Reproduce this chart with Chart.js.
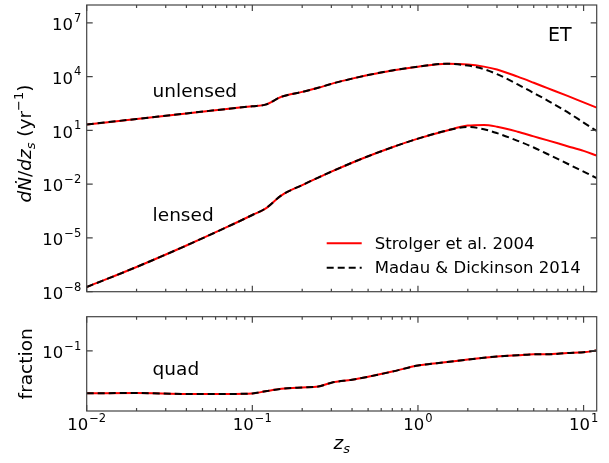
<!DOCTYPE html>
<html>
<head>
<meta charset="utf-8">
<script src="https://cdn.jsdelivr.net/npm/chart.js@4.4.1/dist/chart.umd.min.js"></script>
<style>
  html, body { margin: 0; padding: 0; background: #fff; }
  .panel { position: absolute; left: 0; width: 609px; }
</style>
</head>
<body>
<div class="panel" style="top:0;height:300px"><canvas id="rateChart"></canvas></div>
<div class="panel" style="top:300px;height:163px"><canvas id="fracChart"></canvas></div>
<script>
// source redshift grid
const zs = [0.01, 0.02, 0.04, 0.07, 0.1, 0.12, 0.15, 0.2, 0.25, 0.3, 0.4, 0.5, 0.7,
            1.0, 1.5, 2.0, 2.5, 3, 4, 5, 6, 8, 10, 12];

// dN/dz_s (yr^-1), unlensed
const unlensedStrolger = [21.4, 43.6, 89.1, 158, 224, 275, 759, 1413, 2399, 3981, 7762, 12300, 22390,
                          36310, 52480, 47860, 36310, 25120, 10000, 4571, 2371, 841, 368, 188];
const unlensedMadau    = [21.4, 43.6, 89.1, 158, 224, 275, 759, 1413, 2399, 3981, 7762, 12300, 22390,
                          36310, 52480, 41690, 26300, 13800, 3715, 1230, 490, 105, 27.5, 9.33];

// dN/dz_s (yr^-1), lensed
const lensedStrolger = [1.82e-8, 2.40e-7, 3.80e-6, 3.98e-5, 1.91e-4, 4.37e-4, 2.40e-3, 8.91e-3, 0.0234, 0.0501, 0.158, 0.363, 1.15,
                        3.47, 10.0, 18.6, 20.4, 16.2, 8.51, 4.68, 2.88, 1.32, 0.724, 0.398];
const lensedMadau    = [1.82e-8, 2.40e-7, 3.80e-6, 3.98e-5, 1.91e-4, 4.37e-4, 2.40e-3, 8.91e-3, 0.0234, 0.0501, 0.158, 0.363, 1.15,
                        3.47, 10.0, 15.8, 11.7, 7.08, 2.63, 1.12, 0.501, 0.138, 0.0501, 0.0219];

// quad fraction
const quadStrolger = [0.0321, 0.0324, 0.0316, 0.0316, 0.0320, 0.0339, 0.0363, 0.0376, 0.0385, 0.0427, 0.0462, 0.0501, 0.0575,
                      0.0676, 0.0741, 0.0794, 0.0832, 0.0861, 0.0891, 0.0912, 0.0912, 0.0944, 0.0966, 0.101];
const quadMadau    = [0.0321, 0.0324, 0.0316, 0.0316, 0.0320, 0.0339, 0.0363, 0.0376, 0.0385, 0.0427, 0.0462, 0.0501, 0.0575,
                      0.0676, 0.0741, 0.0794, 0.0832, 0.0861, 0.0891, 0.0912, 0.0912, 0.0944, 0.0966, 0.101];

const seriesNames = ['Strolger et al. 2004', 'Madau & Dickinson 2014'];
const xTicks = [1e-2, 1e-1, 1, 10];
const rateTicks = [1e-8, 1e-5, 1e-2, 1e1, 1e4, 1e7];
const fracTicks = [1e-1];

const FONT = '"DejaVu Sans", sans-serif';
const RED = '#ff0000';
const FRAME = '#444';

const xy = ys => zs.map((z, i) => ({ x: z, y: ys[i] }));

const redLine = (label, ys) => ({
    label, data: xy(ys), borderColor: RED, borderWidth: 2, pointRadius: 0,
    cubicInterpolationMode: 'monotone', order: 2
});
const blackLine = (label, ys) => ({
    label, data: xy(ys), borderColor: '#000', borderWidth: 2, borderDash: [7, 4], pointRadius: 0,
    cubicInterpolationMode: 'monotone', order: 1
});

// draw pieces of text in a row, centred on (cx, cy), optionally rotated
function drawRich(ctx, pieces, cx, cy, rot) {
    ctx.save();
    ctx.translate(cx, cy);
    if (rot) ctx.rotate(rot);
    ctx.textBaseline = 'alphabetic';
    ctx.textAlign = 'left';
    let w = 0;
    pieces.forEach(p => { ctx.font = p.f; p.w = ctx.measureText(p.t).width; w += p.w; });
    let x = -w / 2;
    pieces.forEach(p => { ctx.font = p.f; ctx.fillText(p.t, x, p.dy || 0); x += p.w; });
    ctx.restore();
}

// "10" with a raised exponent, like matplotlib's log tick labels
function drawPow(ctx, v, x, y, align) {
    const base = '10';
    const exp = String(Math.round(Math.log10(v))).replace('-', '\u2212');
    ctx.textAlign = 'left';
    ctx.textBaseline = 'alphabetic';
    ctx.font = '16.5px ' + FONT;
    const wb = ctx.measureText(base).width;
    ctx.font = '11.5px ' + FONT;
    const we = ctx.measureText(exp).width;
    const w = wb + we + 1;
    let x0 = align === 'right' ? x - w : x - w / 2;
    ctx.font = '16.5px ' + FONT;
    ctx.fillText(base, x0, y);
    ctx.font = '11.5px ' + FONT;
    ctx.fillText(exp, x0 + wb + 1, y - 8.5);
}

const axesDeco = {
    id: 'axesDeco',
    afterDatasetsDraw(chart, args, o) {
        const { ctx, chartArea: a, scales: { x, y } } = chart;
        ctx.save();
        ctx.strokeStyle = FRAME;
        ctx.lineWidth = 1.2;
        ctx.strokeRect(a.left, a.top, a.right - a.left, a.bottom - a.top);
        ctx.beginPath();
        for (let d = -2; d <= 1; d++) {
            for (let m = 1; m <= 9; m++) {
                const v = m * Math.pow(10, d);
                if (v < x.min || v > x.max) continue;
                const px = x.getPixelForValue(v);
                const len = m === 1 ? 6 : 3;
                ctx.moveTo(px, a.bottom); ctx.lineTo(px, a.bottom - len);
                ctx.moveTo(px, a.top); ctx.lineTo(px, a.top + len);
            }
        }
        o.yTicks.forEach(v => {
            const py = y.getPixelForValue(v);
            ctx.moveTo(a.left, py); ctx.lineTo(a.left + 6, py);
            ctx.moveTo(a.right, py); ctx.lineTo(a.right - 6, py);
        });
        ctx.stroke();

        ctx.fillStyle = '#000';
        ctx.textBaseline = 'alphabetic';
        o.notes.forEach(n => {
            ctx.font = n.size + 'px ' + FONT;
            ctx.fillText(n.text, x.getPixelForValue(n.x), y.getPixelForValue(n.y));
        });

        if (o.legend) {
            const ds = chart.data.datasets;
            const rows = [a.bottom - 48.4, a.bottom - 24];
            ctx.font = '16.5px ' + FONT;
            ctx.textBaseline = 'middle';
            [ds[0], ds[1]].forEach((d, i) => {
                ctx.beginPath();
                ctx.strokeStyle = d.borderColor;
                ctx.lineWidth = 2;
                ctx.setLineDash(d.borderDash || []);
                ctx.moveTo(a.right - 270, rows[i]);
                ctx.lineTo(a.right - 235, rows[i]);
                ctx.stroke();
                ctx.setLineDash([]);
                ctx.fillText(d.label, a.right - 222, rows[i] + 1);
            });
        }
        ctx.restore();
    },
    afterDraw(chart, args, o) {
        const { ctx, chartArea: a, scales: { x, y } } = chart;
        ctx.save();
        ctx.fillStyle = '#000';
        o.yTicks.forEach(v => drawPow(ctx, v, a.left - 5.5, y.getPixelForValue(v) + 7.3, 'right'));
        if (o.xTitle) {
            xTicks.forEach(v => drawPow(ctx, v, x.getPixelForValue(v), a.bottom + 19, 'center'));
            drawRich(ctx, o.xTitle, (a.left + a.right) / 2, 149, 0);
        }
        drawRich(ctx, o.yTitle, o.yTitleX, (a.top + a.bottom) / 2 + o.yTitleShift, -Math.PI / 2);
        ctx.restore();
    }
};

const it = s => 'italic ' + s + 'px ' + FONT;
const rm = s => s + 'px ' + FONT;

function baseScales(yMin, yMax, yTicks, xHeight) {
    return {
        x: {
            type: 'logarithmic', min: 0.01, max: 12,
            grid: { display: false, drawTicks: false },
            border: { display: false },
            afterBuildTicks: s => { s.ticks = xTicks.map(v => ({ value: v })); },
            afterFit: s => { s.height = xHeight; },
            ticks: { display: false }
        },
        y: {
            type: 'logarithmic', min: yMin, max: yMax,
            grid: { display: false, drawTicks: false },
            border: { display: false },
            afterBuildTicks: s => { s.ticks = yTicks.map(v => ({ value: v })); },
            afterFit: s => { s.width = 86.7; },
            ticks: { display: false }
        }
    };
}

new Chart(document.getElementById('rateChart'), {
    type: 'line',
    data: {
        datasets: [
            redLine(seriesNames[0], unlensedStrolger),
            blackLine(seriesNames[1], unlensedMadau),
            redLine(seriesNames[0], lensedStrolger),
            blackLine(seriesNames[1], lensedMadau)
        ]
    },
    options: {
        responsive: true, maintainAspectRatio: false, animation: false,
        layout: { padding: { top: 5, right: 12.3, left: 0, bottom: 0 } },
        scales: baseScales(1e-8, 1e8, rateTicks, 8.3),
        plugins: {
            legend: { display: false },
            tooltip: { enabled: false },
            axesDeco: {
                yTicks: rateTicks,
                legend: true,
                notes: [
                    { text: 'unlensed', x: 0.025, y: 750, size: 18.5 },
                    { text: 'lensed', x: 0.025, y: 8.5e-5, size: 18.5 },
                    { text: 'ET', x: 6.1, y: 1e6, size: 19 }
                ],
                yTitleX: 31,
                yTitleShift: -4.8,
                yTitle: [
                    { t: 'd', f: it(18.5) }, { t: 'Ṅ', f: it(18.5) }, { t: '/', f: rm(18.5) },
                    { t: 'd', f: it(18.5) }, { t: 'z', f: it(18.5) }, { t: 's', f: it(13), dy: 4 },
                    { t: ' (yr', f: rm(18.5) }, { t: '\u22121', f: rm(13), dy: -8 }, { t: ')', f: rm(18.5) }
                ]
            }
        }
    },
    plugins: [axesDeco]
});

new Chart(document.getElementById('fracChart'), {
    type: 'line',
    data: {
        datasets: [
            redLine(seriesNames[0], quadStrolger),
            blackLine(seriesNames[1], quadMadau)
        ]
    },
    options: {
        responsive: true, maintainAspectRatio: false, animation: false,
        layout: { padding: { top: 16.7, right: 12.3, left: 0, bottom: 0 } },
        scales: baseScales(0.02, 0.25, fracTicks, 52),
        plugins: {
            legend: { display: false },
            tooltip: { enabled: false },
            axesDeco: {
                yTicks: fracTicks,
                legend: false,
                notes: [
                    { text: 'quad', x: 0.025, y: 0.0525, size: 18.5 }
                ],
                yTitleX: 32,
                yTitleShift: 0,
                yTitle: [{ t: 'fraction', f: rm(18.5) }],
                xTitle: [{ t: 'z', f: it(18.5) }, { t: 's', f: it(13), dy: 4 }]
            }
        }
    },
    plugins: [axesDeco]
});
</script>
</body>
</html>
